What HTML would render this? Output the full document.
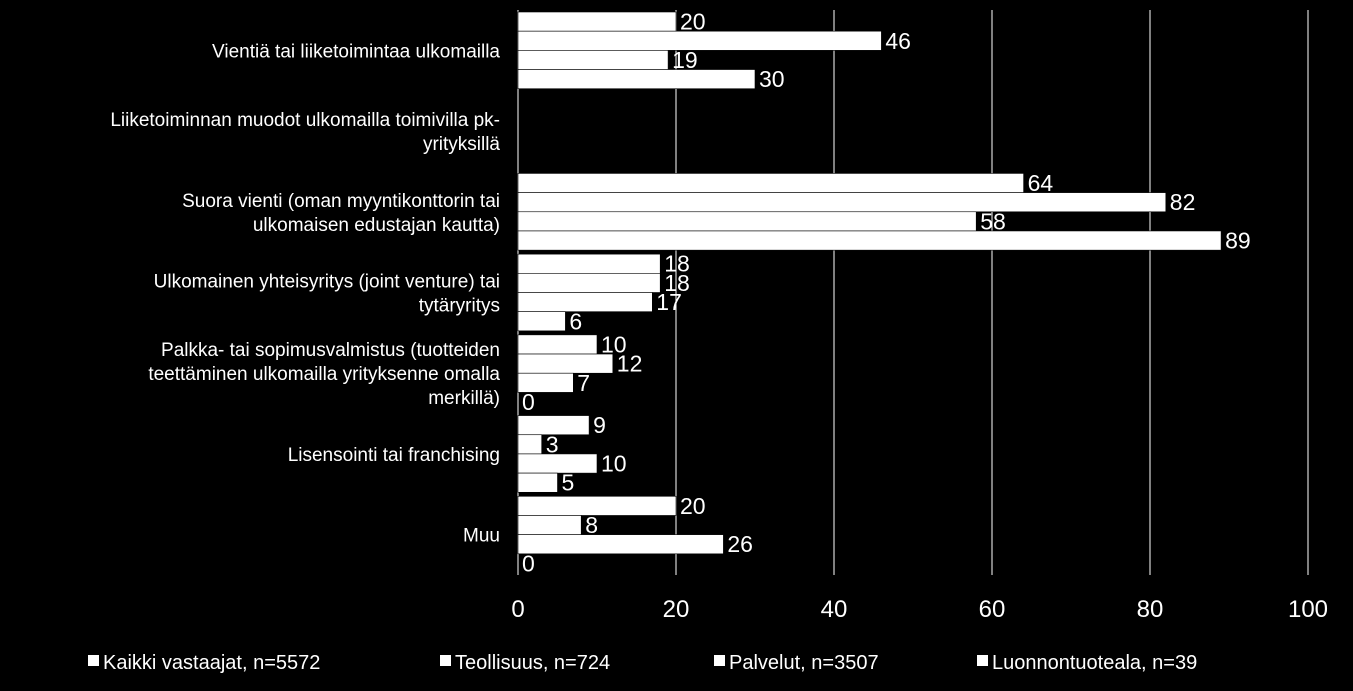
<!DOCTYPE html>
<html><head><meta charset="utf-8"><style>
body{margin:0;background:#000;}
svg{display:block;font-family:"Liberation Sans",sans-serif;}
</style></head><body>
<svg id="chart" width="1353" height="691" viewBox="0 0 1353 691"></svg>
<script>
const categories=[["Vientiä tai liiketoimintaa ulkomailla"],["Liiketoiminnan muodot ulkomailla toimivilla pk-","yrityksillä"],["Suora vienti (oman myyntikonttorin tai","ulkomaisen edustajan kautta)"],["Ulkomainen yhteisyritys (joint venture) tai","tytäryritys"],["Palkka- tai sopimusvalmistus (tuotteiden","teettäminen ulkomailla yrityksenne omalla","merkillä)"],["Lisensointi tai franchising"],["Muu"]];
const seriesNames=["Kaikki vastaajat, n=5572","Teollisuus, n=724","Palvelut, n=3507","Luonnontuoteala, n=39"];
const kaikki=[20,null,64,18,10,9,20];
const teollisuus=[46,null,82,18,12,3,8];
const palvelut=[19,null,58,17,7,10,26];
const luonnon=[30,null,89,6,0,5,0];
const ticks=[0,20,40,60,80,100];
const series=[kaikki,teollisuus,palvelut,luonnon];
const svg=document.getElementById('chart');
const NS='http://www.w3.org/2000/svg';
const x0=518,x1=1308,yTop=10,yBot=575;
const xs=v=>x0+(v/100)*(x1-x0);
const rowH=(yBot-yTop)/categories.length;
function mk(t,a){const e=document.createElementNS(NS,t);for(const k in a)e.setAttribute(k,a[k]);svg.appendChild(e);return e;}
ticks.forEach(t=>{
 const l=mk('line',{x1:xs(t),x2:xs(t),y1:yTop,y2:yBot,stroke:'#fff','stroke-width':1});
 
 
 const tx=mk('text',{x:xs(t),y:617,fill:'#fff','font-size':24,'text-anchor':'middle'});
 tx.textContent=t;
 
 
});
categories.forEach((c,i)=>{
 const cy=yTop+rowH*(i+0.5);
 const n=c.length;
 c.forEach((line,j)=>{
  const t=mk('text',{x:500,y:cy+(j-(n-1)/2)*24+7,fill:'#fff','font-size':19,'text-anchor':'end'});
  t.textContent=line;
  
  
 });
 const bh=(rowH-4)/4;
 series.forEach((s,k)=>{
  const v=s[i];
  if(v==null)return;
  const y=yTop+rowH*i+2+k*bh;
  const r=mk('rect',{x:x0,y:y,width:xs(v)-x0,height:bh,fill:'#fff',stroke:'#000','stroke-width':0.6});
  
  
  const t=mk('text',{x:xs(v)+4,y:y+bh/2+8,fill:'#fff','font-size':23});
  t.textContent=v;
  
  
 });
});
const lx=[88,440,714,977];
seriesNames.forEach((nm,k)=>{
 const r=mk('rect',{x:lx[k],y:655,width:11,height:11,fill:'#fff'});
 
 
 const t=mk('text',{x:lx[k]+15,y:669,fill:'#fff','font-size':20});
 t.textContent=nm;
 
 
});
</script>
</body></html>
